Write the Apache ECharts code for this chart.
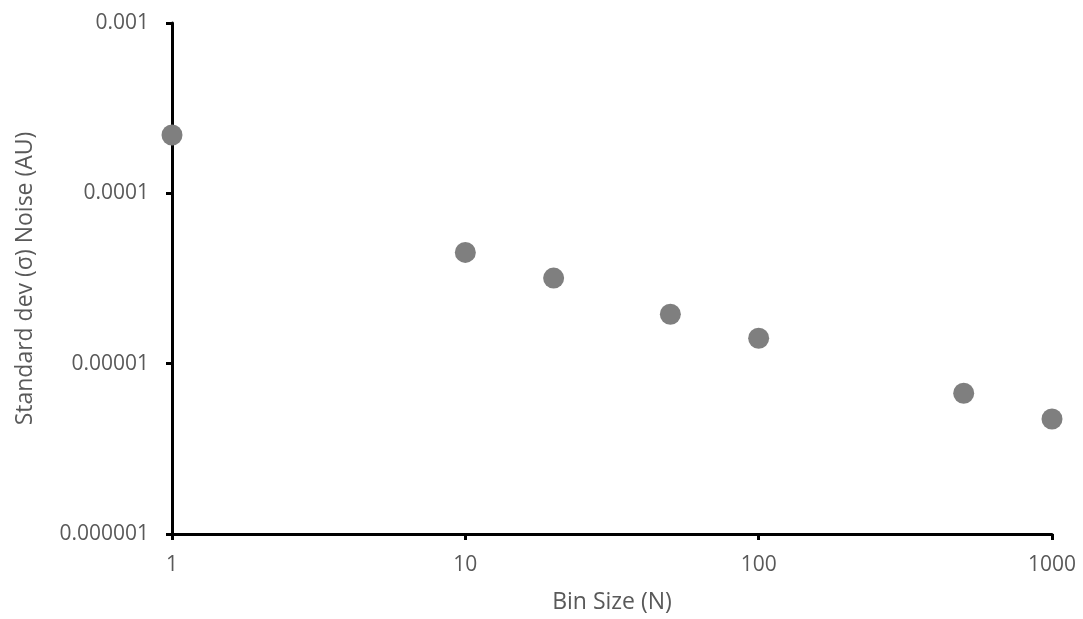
<!DOCTYPE html>
<html>
<head>
<meta charset="utf-8">
<script src="https://cdn.jsdelivr.net/npm/echarts@6/dist/echarts.min.js"></script>
<style>
  html, body { margin: 0; padding: 0; background: #fff; }
  #chart { width: 1083px; height: 619px; }
</style>
</head>
<body>
<div id="chart"></div>
<script>
// Bin size versus measured noise (standard deviation), log-log
const binSizes = [1, 10, 20, 50, 100, 500, 1000];
const noiseStd = [2.2e-4, 4.5e-5, 3.18e-5, 1.95e-5, 1.41e-5, 6.7e-6, 4.73e-6];

const xTitle = 'Bin Size (N)';
const yTitle = 'Standard dev (σ) Noise (AU)';

const font = '"Open Sans", sans-serif';
const textGrey = '#595959';

const chart = echarts.init(document.getElementById('chart'), null, { renderer: 'canvas' });

chart.setOption({
  animation: false,
  backgroundColor: '#ffffff',
  grid: { left: 172, right: 31, top: 23, bottom: 85 },
  xAxis: {
    type: 'log',
    logBase: 10,
    min: 1,
    max: 1000,
    name: xTitle,
    nameLocation: 'middle',
    nameGap: 57,
    nameTextStyle: { color: textGrey, fontSize: 23, fontFamily: font },
    axisLine: { lineStyle: { color: '#000', width: 3 } },
    axisTick: { show: true, length: 6, inside: false, lineStyle: { color: '#000', width: 3 } },
    minorTick: { show: false },
    splitLine: { show: false },
    axisLabel: {
      color: textGrey, fontSize: 21, fontFamily: font, margin: 21,
      formatter: v => String(Math.round(v))
    }
  },
  yAxis: {
    type: 'log',
    logBase: 10,
    min: 1e-6,
    max: 1e-3,
    name: yTitle,
    nameLocation: 'middle',
    nameGap: 135,
    nameRotate: 90,
    nameTextStyle: { color: textGrey, fontSize: 23, fontFamily: font },
    axisLine: { lineStyle: { color: '#000', width: 3 } },
    axisTick: { show: true, length: 6, inside: false, lineStyle: { color: '#000', width: 3 } },
    splitLine: { show: false },
    axisLabel: {
      color: textGrey, fontSize: 21, fontFamily: font, margin: 23,
      formatter: v => v.toFixed(Math.max(0, -Math.round(Math.log10(v))))
    }
  },
  series: [{
    type: 'scatter',
    data: binSizes.map((n, i) => [n, noiseStd[i]]),
    symbol: 'circle',
    symbolSize: 21,
    itemStyle: { color: '#7f7f7f', opacity: 1 },
    silent: true
  }]
});
</script>
</body>
</html>
